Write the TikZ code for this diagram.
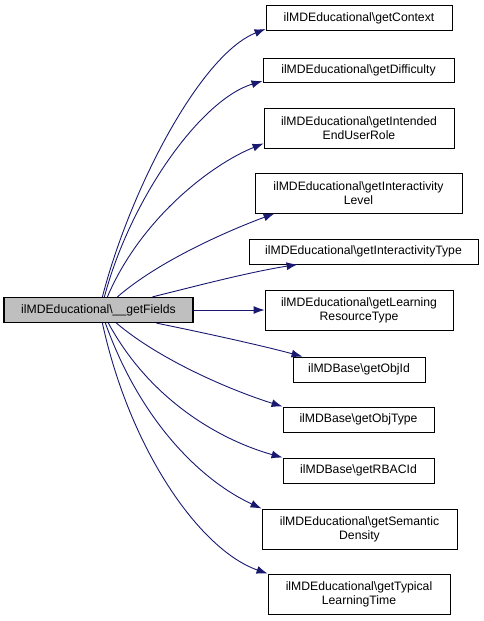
\documentclass[tikz,border=0pt]{standalone}
\usepackage{fontspec}
\setmainfont{Liberation Sans}
\usetikzlibrary{arrows.meta}
\definecolor{edgeblue}{HTML}{191970}
\definecolor{srcgrey}{HTML}{BFBFBF}
\tikzset{
  fn/.style={draw=black, line width=0.9pt, fill=white, inner sep=0pt, align=center,
    font=\fontsize{12.2}{14}\selectfont, minimum height=25pt},
  fntwo/.style={fn, minimum height=40pt},
  call/.style={draw=edgeblue, line width=0.9pt, -{Latex[length=11pt,width=8pt]}},
}
\begin{document}
\begin{tikzpicture}[x=1pt,y=-1pt]
\useasboundingbox (0,0) rectangle (483,621);
\node[fn, fill=srcgrey, line width=1.2pt, minimum width=189pt] (src) at (98.5,310) {ilMDEducational\textbackslash\_\_getFields};
\node[fn, minimum width=186pt] (n1) at (359,18) {ilMDEducational\textbackslash getContext};
\node[fn, minimum width=191pt, minimum height=24pt] (n2) at (358.5,70.5) {ilMDEducational\textbackslash getDifficulty};
\node[fntwo, minimum width=190pt] (n3) at (359,128) {ilMDEducational\textbackslash getIntended\\EndUserRole};
\node[fntwo, minimum width=207pt] (n4) at (358.5,193) {ilMDEducational\textbackslash getInteractivity\\Level};
\node[fn, minimum width=229pt] (n5) at (363.5,251.5) {ilMDEducational\textbackslash getInteractivityType};
\node[fntwo, minimum width=188pt] (n6) at (359,310) {ilMDEducational\textbackslash getLearning\\ResourceType};
\node[fn, minimum width=132pt] (n7) at (359,369.5) {ilMDBase\textbackslash getObjId};
\node[fn, minimum width=151pt] (n8) at (358.5,419.5) {ilMDBase\textbackslash getObjType};
\node[fn, minimum width=151pt] (n9) at (358.5,470.5) {ilMDBase\textbackslash getRBACId};
\node[fntwo, minimum width=195pt] (n10) at (359.5,529) {ilMDEducational\textbackslash getSemantic\\Density};
\node[fntwo, minimum width=182pt] (n11) at (359,594) {ilMDEducational\textbackslash getTypical\\LearningTime};

\draw[call] ([xshift=99pt]src.north west) .. controls (130,190) and (200,55) .. ([yshift=2pt]n1.south west);
\draw[call] ([xshift=101pt]src.north west) .. controls (130,200) and (200,100) .. ([yshift=2pt]n2.south west);
\draw[call] ([xshift=104pt]src.north west) .. controls (140,220) and (210,165) .. ([yshift=5pt]n3.south west);
\draw[call] ([xshift=114pt]src.north west) .. controls (160,260) and (230,230) .. ([xshift=20pt]n4.south west);
\draw[call] ([xshift=149pt]src.north west) .. controls (200,285) and (250,272) .. ([xshift=49pt]n5.south west);
\draw[call] (src.east) -- (n6.west);
\draw[call] ([xshift=153pt]src.south west) .. controls (200,332) and (260,345) .. ([xshift=10pt]n7.north west);
\draw[call] ([xshift=113pt]src.south west) .. controls (160,360) and (230,390) .. (n8.north west);
\draw[call] ([xshift=105pt]src.south west) .. controls (150,400) and (220,440) .. (n9.north west);
\draw[call] ([xshift=102pt]src.south west) .. controls (140,420) and (200,480) .. (n10.north west);
\draw[call] ([xshift=99pt]src.south west) .. controls (130,450) and (200,550) .. (n11.north west);
\end{tikzpicture}
\end{document}
